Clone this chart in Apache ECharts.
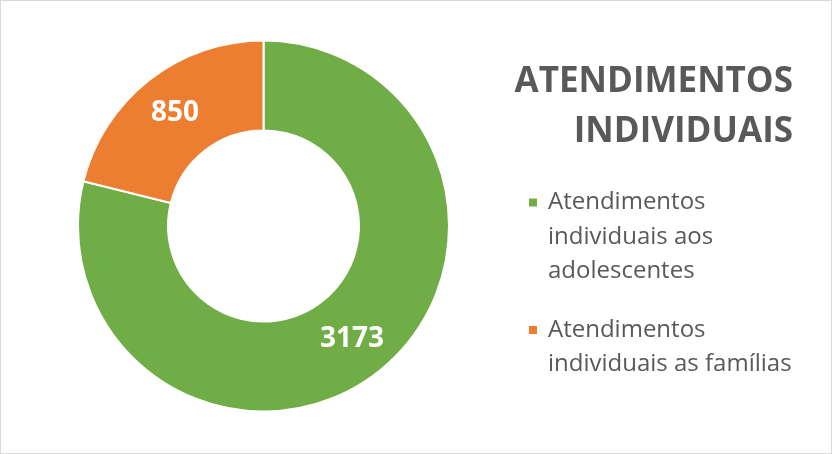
<!DOCTYPE html>
<html>
<head>
<meta charset="utf-8">
<script src="https://cdn.jsdelivr.net/npm/echarts@6/dist/echarts.min.js"></script>
<style>
  html, body { margin: 0; padding: 0; background: #fff; }
  #chart { width: 832px; height: 454px; box-sizing: border-box; border: 1px solid #d9d9d9; }
</style>
</head>
<body>
<div id="chart"></div>
<script>
const categories = ['Atendimentos individuais aos adolescentes', 'Atendimentos individuais as famílias']
const values = [3173, 850]
const legendLines = [
  ['Atendimentos', 'individuais aos', 'adolescentes'],
  ['Atendimentos', 'individuais as famílias']
]
const titleLines = ['ATENDIMENTOS', 'INDIVIDUAIS']
const colors = ['#70ad47', '#ed7d31']

const chart = echarts.init(document.getElementById('chart'))

const lineH = 34.5
const iconTop = [196.5, 324]
// one legend per item; empty lines on top keep the marker next to the first line
const legends = categories.map((name, i) => {
  const n = legendLines[i].length
  const total = 2 * n - 1
  return {
    data: [name],
    left: 526,
    top: iconTop[i] - (total * lineH / 2 - 5),
    padding: 0,
    icon: 'rect',
    itemWidth: 10,
    itemHeight: 10,
    selectedMode: false,
    formatter: () => '\n'.repeat(n - 1) + legendLines[i].join('\n'),
    textStyle: {
      fontFamily: 'Open Sans',
      fontSize: 24,
      color: '#595959',
      lineHeight: lineH,
      padding: [0, 0, 0, 5]
    }
  }
})

const titles = titleLines.map((t, i) => ({
  text: t,
  right: 38,
  top: 58 + i * 50,
  padding: 0,
  textStyle: {
    fontFamily: 'Open Sans',
    fontWeight: 'bold',
    fontSize: 35,
    lineHeight: 46,
    color: '#595959'
  }
}))

const option = {
  backgroundColor: '#fff',
  title: titles,
  legend: legends,
  series: [
    {
      type: 'pie',
      center: [262.5, 225],
      radius: [95.5, 185.5],
      startAngle: 90,
      clockwise: true,
      silent: true,
      data: categories.map((name, i) => ({
        name,
        value: values[i],
        itemStyle: { color: colors[i] }
      })),
      itemStyle: {
        borderColor: '#fff',
        borderWidth: 2
      },
      label: {
        show: true,
        position: 'inside',
        formatter: '{c}',
        color: '#fff',
        fontFamily: 'Open Sans',
        fontWeight: 'bold',
        fontSize: 28
      },
      labelLine: { show: false }
    }
  ]
}

chart.setOption(option)
</script>
</body>
</html>
